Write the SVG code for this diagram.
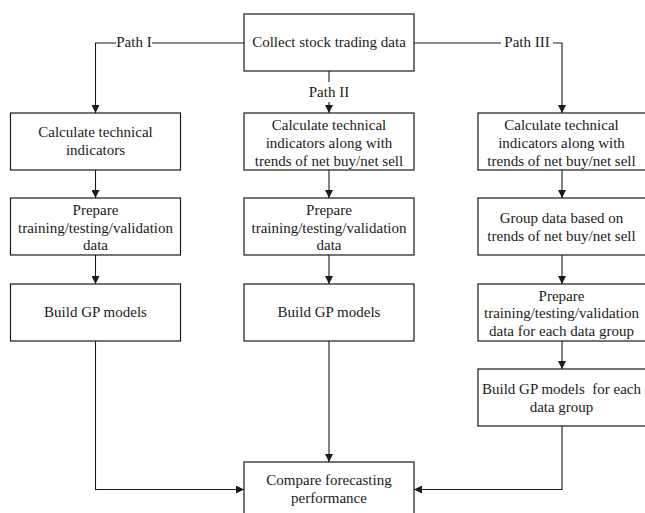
<svg xmlns="http://www.w3.org/2000/svg" width="645" height="513" viewBox="0 0 645 513">
<defs>
<style>
.box{fill:#fff;stroke:#1a1a1a;stroke-width:1.2}
.ln{fill:none;stroke:#1a1a1a;stroke-width:1.1}
text{font-family:"Liberation Serif","Times New Roman",serif;font-size:15px;fill:#1a1a1a;text-anchor:middle}
</style>
<marker id="ah" viewBox="0 0 10 10" refX="10" refY="5" markerWidth="8" markerHeight="8" markerUnits="userSpaceOnUse" orient="auto">
<path d="M0,0 L10,5 L0,10 z" fill="#1a1a1a"/>
</marker>
</defs>
<rect width="645" height="513" fill="#fff"/>

<g id="connectors">
<path class="ln" d="M244,43 H152"/>
<path class="ln" d="M116,43 H95.5 V113" marker-end="url(#ah)"/>
<path class="ln" d="M414,43 H501"/>
<path class="ln" d="M553,43 H562 V113" marker-end="url(#ah)"/>
<path class="ln" d="M329,71 V82"/>
<path class="ln" d="M329,102 V113" marker-end="url(#ah)"/>
<path class="ln" d="M95.5,170 V198" marker-end="url(#ah)"/>
<path class="ln" d="M95.5,255 V284" marker-end="url(#ah)"/>
<path class="ln" d="M329,170 V198" marker-end="url(#ah)"/>
<path class="ln" d="M329,255 V284" marker-end="url(#ah)"/>
<path class="ln" d="M562,170 V198" marker-end="url(#ah)"/>
<path class="ln" d="M562,255 V284" marker-end="url(#ah)"/>
<path class="ln" d="M562,341 V369" marker-end="url(#ah)"/>
<path class="ln" d="M95.5,341 V489.5 H244" marker-end="url(#ah)"/>
<path class="ln" d="M329,341 V462" marker-end="url(#ah)"/>
<path class="ln" d="M562,426 V489.5 H414" marker-end="url(#ah)"/>
<text x="134" y="47">Path I</text>
<text x="527" y="47">Path III</text>
<text x="329" y="97">Path II</text>
</g>

<g id="collect">
<rect class="box" x="244" y="14" width="170" height="57"/>
<text x="329" y="47">Collect stock trading data</text>
</g>

<g id="p1-calc">
<rect class="box" x="10.5" y="113" width="170" height="57"/>
<text x="95.5" y="137">Calculate technical</text>
<text x="95.5" y="155">indicators</text>
</g>
<g id="p1-prepare">
<rect class="box" x="10.5" y="198" width="170" height="57"/>
<text x="95.5" y="215">Prepare</text>
<text x="95.5" y="232.5">training/testing/validation</text>
<text x="95.5" y="250">data</text>
</g>
<g id="p1-build">
<rect class="box" x="10.5" y="284" width="170" height="57"/>
<text x="95.5" y="317">Build GP models</text>
</g>

<g id="p2-calc">
<rect class="box" x="244" y="113" width="170" height="57"/>
<text x="329" y="129.5">Calculate technical</text>
<text x="329" y="147.5">indicators along with</text>
<text x="329" y="165.5">trends of net buy/net sell</text>
</g>
<g id="p2-prepare">
<rect class="box" x="244" y="198" width="170" height="57"/>
<text x="329" y="215">Prepare</text>
<text x="329" y="232.5">training/testing/validation</text>
<text x="329" y="250">data</text>
</g>
<g id="p2-build">
<rect class="box" x="244" y="284" width="170" height="57"/>
<text x="329" y="317">Build GP models</text>
</g>

<g id="p3-calc">
<rect class="box" x="478" y="113" width="168" height="57"/>
<text x="561.5" y="129.5">Calculate technical</text>
<text x="561.5" y="147.5">indicators along with</text>
<text x="561.5" y="165.5">trends of net buy/net sell</text>
</g>
<g id="p3-group">
<rect class="box" x="478" y="198" width="168" height="57"/>
<text x="561.5" y="223">Group data based on</text>
<text x="561.5" y="241">trends of net buy/net sell</text>
</g>
<g id="p3-prepare">
<rect class="box" x="478" y="284" width="168" height="57"/>
<text x="561.5" y="300.5">Prepare</text>
<text x="561.5" y="318">training/testing/validation</text>
<text x="561.5" y="335.5">data for each data group</text>
</g>
<g id="p3-build">
<rect class="box" x="478" y="369" width="168" height="57"/>
<text x="561.5" y="393.5" xml:space="preserve">Build GP models  for each</text>
<text x="561.5" y="411.5">data group</text>
</g>

<g id="compare">
<rect class="box" x="244" y="462" width="170" height="57"/>
<text x="329" y="485">Compare forecasting</text>
<text x="329" y="503">performance</text>
</g>
</svg>
